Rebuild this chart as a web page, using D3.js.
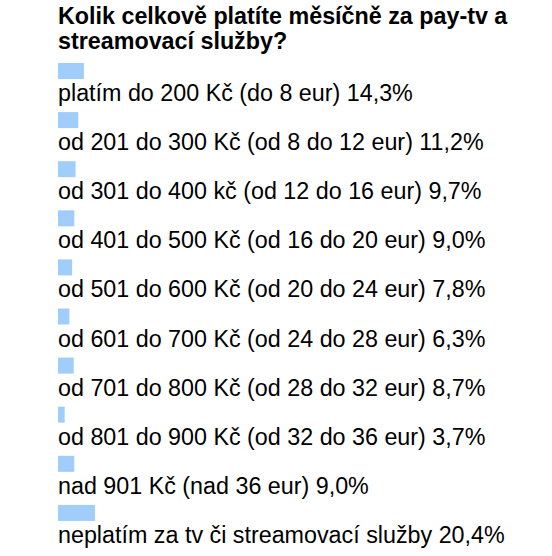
<!DOCTYPE html>
<html><head><meta charset="utf-8">
<script src="https://cdn.jsdelivr.net/npm/d3@7"></script>
<style>body{margin:0;background:#fff}</style>
</head><body>
<svg id="c" width="552" height="556"></svg>
<script>
const titleLines = ["Kolik celkově platíte měsíčně za pay-tv a", "streamovací služby?"];
const categories = [
  "platím do 200 Kč (do 8 eur)",
  "od 201 do 300 Kč (od 8 do 12 eur)",
  "od 301 do 400 kč (od 12 do 16 eur)",
  "od 401 do 500 Kč (od 16 do 20 eur)",
  "od 501 do 600 Kč (od 20 do 24 eur)",
  "od 601 do 700 Kč (od 24 do 28 eur)",
  "od 701 do 800 Kč (od 28 do 32 eur)",
  "od 801 do 900 Kč (od 32 do 36 eur)",
  "nad 901 Kč (nad 36 eur)",
  "neplatím za tv či streamovací služby"
];
const values = [14.3, 11.2, 9.7, 9.0, 7.8, 6.3, 8.7, 3.7, 9.0, 20.4];

const svg = d3.select("#c");
const left = 58;
const x = d3.scaleLinear().domain([0, 100]).range([0, 181]);
const y = d3.scaleBand().domain(d3.range(categories.length)).range([63, 63 + 49.1 * categories.length]).paddingInner(0).paddingOuter(0);

svg.append("g").selectAll("text").data(titleLines).join("text")
  .attr("x", left).attr("y", (d, i) => 24 + i * 24.5)
  .attr("font-family", "Liberation Sans, Arial, sans-serif")
  .attr("font-weight", "bold").attr("font-size", 23.3).attr("fill", "#000")
  .text(d => d);

const fmt = v => v.toFixed(1).replace(".", ",") + "%";
const rows = svg.append("g").selectAll("g").data(categories).join("g")
  .attr("transform", (d, i) => `translate(${left},${y(i)})`);
rows.append("rect").attr("x", 0).attr("y", 0)
  .attr("width", (d, i) => x(values[i])).attr("height", 16).attr("fill", "#a0cdf9");
rows.append("text").attr("x", 0).attr("y", 38)
  .attr("font-family", "Liberation Sans, Arial, sans-serif")
  .attr("font-size", 23.3).attr("fill", "#000")
  .text((d, i) => d + " " + fmt(values[i]));
</script>
</body></html>
